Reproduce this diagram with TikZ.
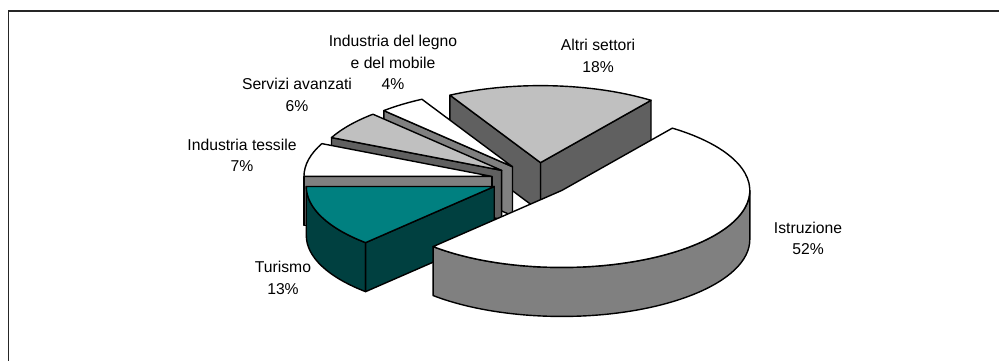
\documentclass[tikz,border=0pt]{standalone}
\usepackage{fontspec}
\setmainfont{Liberation Sans}
\usetikzlibrary{calc}
\definecolor{ltgrey}{HTML}{C0C0C0}
\definecolor{dkgrey}{HTML}{606060}
\definecolor{mdgrey}{HTML}{808080}
\definecolor{tealtop}{HTML}{008080}
\definecolor{tealside}{HTML}{004040}
\newcommand{\pieA}{188}
\newcommand{\pieB}{77}
\newcommand{\pieD}{49}
\newcommand{\pieTop}[4]{%
  \filldraw[pieline, fill=#4] (#1) -- ($(#1)+(#2:\pieA pt and \pieB pt)$)
    arc[start angle=#2, end angle=#3, x radius=\pieA pt, y radius=\pieB pt] -- cycle;}
\newcommand{\pieRad}[3]{%
  \filldraw[pieline, fill=#3] (#1) -- ($(#1)+(#2:\pieA pt and \pieB pt)$) -- ++(0,-\pieD)
    -- ($(#1)+(0,-\pieD)$) -- cycle;}
\newcommand{\pieOut}[4]{%
  \filldraw[pieline, fill=#4] ($(#1)+(#2:\pieA pt and \pieB pt)$)
    arc[start angle=#2, end angle=#3, x radius=\pieA pt, y radius=\pieB pt] -- ++(0,-\pieD)
    arc[start angle=#3, end angle=#2, x radius=\pieA pt, y radius=\pieB pt] -- cycle;}
\begin{document}
\begin{tikzpicture}[x=1pt, y=1pt,
  pieline/.style={draw=black, line width=1.4pt, line join=round},
  lbl/.style={align=center, font=\fontsize{15.7}{21.5}\selectfont, inner sep=0pt, text=black}]
\useasboundingbox (0,0) rectangle (999,361);
\fill[white] (0,0) rectangle (999,361);
% frame (cut at right and bottom)
\coordinate (fTL) at (8.5,350);
\coordinate (fTR) at (999,350);
\coordinate (fBL) at (8.5,0);
\draw[line width=1.5pt, black!85] (fTR) -- (fTL) -- (fBL);
% pie centres
\coordinate (C) at (531,181);
\coordinate (cI) at ($(C)+(-39.6:40pt and 16.4pt)$);
\coordinate (cA) at ($(C)+(86.4:40pt and 16.4pt)+(7,1)$);
\coordinate (cL) at ($(C)+(126:40pt and 16.4pt)+(5,0)$);
\coordinate (cS) at ($(C)+(144:40pt and 16.4pt)+(3,0)$);
\coordinate (cT) at ($(C)+(167.4:40pt and 16.4pt)$);
\coordinate (cU) at ($(C)+(203.4:40pt and 16.4pt)$);
% Altri settori
\pieRad{cA}{54}{dkgrey}
\pieRad{cA}{118.8}{dkgrey}
\pieTop{cA}{54}{118.8}{ltgrey}
% Industria del legno
\pieRad{cL}{133.2}{mdgrey}
\pieTop{cL}{118.8}{133.2}{white}
% Servizi avanzati
\pieRad{cS}{154.8}{dkgrey}
\pieTop{cS}{133.2}{154.8}{ltgrey}
% Industria tessile
\pieRad{cT}{180}{mdgrey}
\pieTop{cT}{154.8}{180}{white}
% Turismo
\pieOut{cU}{180}{226.8}{tealside}
\pieRad{cU}{226.8}{tealside}
\pieTop{cU}{180}{226.8}{tealtop}
% Istruzione
\pieOut{cI}{226.8}{360}{mdgrey}
\pieTop{cI}{226.8}{414}{white}
% labels
\node[lbl] (lAltri) at (598,305) {Altri settori\\18\%};
\node[lbl] (lLegno) at (393,298.5) {Industria del legno\\e del mobile\\4\%};
\node[lbl] (lServ) at (297,266) {Servizi avanzati\\6\%};
\node[lbl] (lTess) at (242,205.5) {Industria tessile\\7\%};
\node[lbl] (lTur) at (283,83) {Turismo\\13\%};
\node[lbl] (lIstr) at (808,122.5) {Istruzione\\52\%};
\end{tikzpicture}
\end{document}
